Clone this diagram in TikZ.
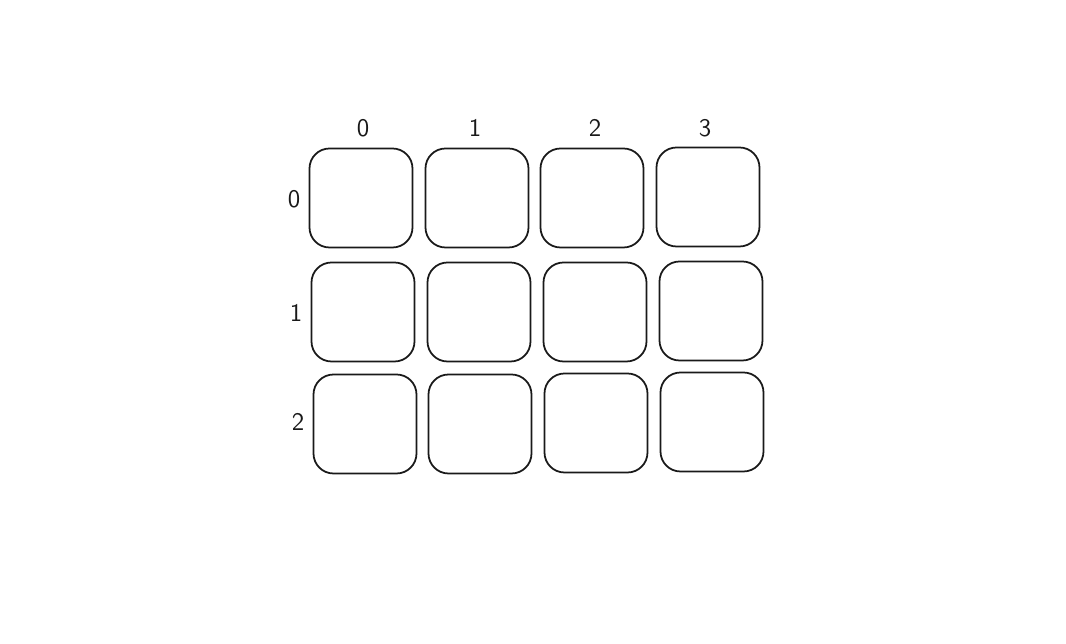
\documentclass[tikz,border=0pt]{standalone}
\usepackage{tikz}
\usetikzlibrary{positioning}
\tikzset{
  cell/.style={draw=black!90, line width=1pt, rounded corners=0.4cm,
    minimum width=2.06cm, minimum height=1.98cm, inner sep=0pt},
  idx/.style={font=\sffamily\Large, text=black!90}
}

\begin{document}
\begin{tikzpicture}
				\useasboundingbox (0,0) rectangle (21.32,12.88);
				
				% column indices
				\node[idx] (c0) at (7.26,10.32) {0};
				\node[idx] (c1) at (9.50,10.32) {1};
				\node[idx] (c2) at (11.90,10.32) {2};
				\node[idx] (c3) at (14.10,10.32) {3};
				
				% row indices
				\node[idx] (r0) at (5.88,8.90) {0};
				\node[idx] (r1) at (5.92,6.62) {1};
				\node[idx] (r2) at (5.96,4.44) {2};
				
				% row 0
				\node[cell] (m00) at (7.22,8.92) {};
				\node[cell] (m01) at (9.54,8.92) {};
				\node[cell] (m02) at (11.84,8.92) {};
				\node[cell] (m03) at (14.16,8.94) {};
				
				% row 1
				\node[cell] (m10) at (7.26,6.64) {};
				\node[cell] (m11) at (9.58,6.64) {};
				\node[cell] (m12) at (11.90,6.64) {};
				\node[cell] (m13) at (14.22,6.66) {};
				
				% row 2
				\node[cell] (m20) at (7.30,4.40) {};
				\node[cell] (m21) at (9.60,4.40) {};
				\node[cell] (m22) at (11.92,4.42) {};
				\node[cell] (m23) at (14.24,4.44) {};
			\end{tikzpicture}
\end{document}
